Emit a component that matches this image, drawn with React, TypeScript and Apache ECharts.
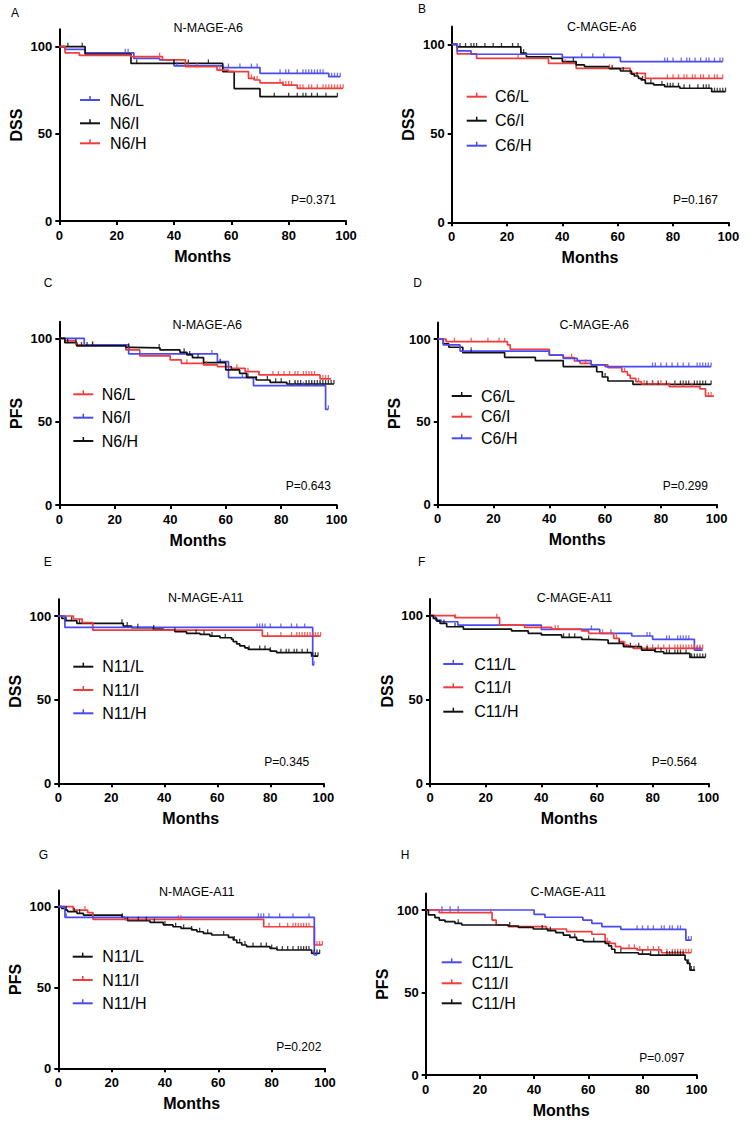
import { useEffect, useRef } from "react";
import * as echarts from "echarts";

const RED = "#f03c3c";
const BLUE = "#4a4af0";
const BLACK = "#111111";
const FONT = "'Liberation Sans', Arial, Helvetica, sans-serif";

// ---- tick labels ----
const xTicks = [0, 20, 40, 60, 80, 100];
const yTicks = [0, 50, 100];

// ---- Panel A: DSS, N-MAGE-A6 ----
const aLSteps = [[0,100],[2,98.5],[9,96.5],[26,93.3],[35,92.4],[40,89],[57,88],[70,84.7],[94,82.8],[98,82.8]];
const aLCens = [23,24,41,59,63,67,69,77,79,80,83,85,86,87,88,89,90,91,92,95,96,97,98];
const aISteps = [[0,100],[9,95.8],[25,90.4],[57,85.7],[61,76],[70,71.3],[97,71.3]];
const aICens = [3,8,27,40,45,52,75,80,83,85,86,88,90,93,97];
const aHSteps = [[0,100],[2,96.5],[7,95],[25,94.3],[36,92.4],[44,88.5],[55,86.6],[59,85.7],[66,81.8],[68,80.9],[70,79.3],[78,78],[83,76.1],[99,76.1]];
const aHCens = [35,45,48,56,67,68,69,77,78,79,80,81,84,85,87,88,90,92,93,94,95,96,97,98,99];

// ---- Panel B: DSS, C-MAGE-A6 ----
const bLSteps = [[0,100],[2,94.6],[9,92.1],[35,89.3],[45,86.5],[64.5,83.7],[70,80.9],[98,80.9]];
const bLCens = [24,41,57,78,80,82,84,85,87,88,90,91,93,95,96,98];
const bISteps = [[0,100],[2,98.5],[25,95],[27,93],[36,92.1],[40,90.3],[45,88.4],[48,87.5],[57,86.3],[61,85],[65,83.3],[66,82.2],[67.5,80.9],[68.5,80],[70,78.1],[73,77.2],[77,76.2],[82.5,75.3],[94,73.4],[99,73.4]];
const bICens = [3,5,7,8,9,12,15,18,22,24,25,26,44,58,62,67,69,72,76,78,79,80,82,84,86,89,91,92,93,95,96,97,98,99];
const bHSteps = [[0,100],[2,96.3],[7,94.4],[40,92.7],[61,90.3],[98,90.3]];
const bHCens = [47,51,55,77,78,80,83,85,86,88,90,92,93,95,97,98];

// ---- Panel C: PFS, N-MAGE-A6 ----
const cLSteps = [[0,100],[2,98.6],[6,96],[24,93],[29,89.5],[40,87],[44,85],[52,84],[57,83],[62,82],[67,80],[72,78],[94,75.6],[98,75.6]];
const cLCens = [6,12,25,46,53,64,68,72,77,79,81,83,85,86,88,89,90,91,92,95,96,97];
const cISteps = [[0,100],[9,96],[25,90.6],[57,86],[61,76.4],[70,71.6],[96,57.4],[97,57.4]];
const cICens = [55,66,85,88,91,94,97];
const cHSteps = [[0,100],[2,97.4],[6.3,95.4],[24,94.6],[26,94.2],[36.3,93],[43.5,91.6],[46,90],[48,88.4],[52,85.4],[60,81],[65,79],[67.5,76.6],[71,75],[76,73.6],[82,72.6],[99,72.6]];
const cHCens = [3,6,8,10,12,25,36,45,47,50,58,62,68,71,75,78,80,83,85,86,87,89,90,91,92,93,94,95,96,97,98,99];

// ---- Panel D: PFS, C-MAGE-A6 ----
const dLSteps = [[0,100],[2,97],[4,95],[9,91.7],[24,88.9],[35,86.9],[45,83.3],[57,80.2],[59,77],[61,74.6],[70,72.5],[98,72.5]];
const dLCens = [12,60,75,77,79,82,85,87,88,89,90,92,93,94,95,96,98];
const dISteps = [[0,100],[3,98.4],[25,96.4],[26,93.8],[40,90.3],[45,88.7],[49,86.7],[51,85.3],[55,84.3],[61,82.7],[66,80.2],[68,78.2],[69,76.2],[71,74.2],[73,72.8],[83,71.2],[94,69.8],[96,65.5],[99,65.5]];
const dICens = [6,12,18,22,24,48,53,67,72,74,77,80,83,85,88,91,94,97,98];
const dHSteps = [[0,100],[2,96.4],[8,92.7],[40,90.3],[45,88.3],[50,86.9],[55,84.3],[60,83.3],[98,83.3]];
const dHCens = [12,77,78,80,82,84,86,88,90,93,94,95,96,97,98];

// ---- Panel E: DSS, N-MAGE-A11 ----
const eLSteps = [[0,100],[1.3,98.6],[2.5,97.2],[7,95.6],[24.5,94],[27.7,93],[35.8,92.2],[39.6,91.6],[44,90.6],[48.4,89.6],[53.5,89],[57.2,88],[61,87],[65.4,86],[66,84.7],[67.3,83.3],[68.5,82.1],[70.4,81],[71.7,80],[80,79],[82.4,78.1],[95.6,76],[98,76]];
const eLCens = [3,5,8,24,26,30,36,44,52,55,58,63,72,76,78,80,84,86,87,89,90,92,94,96,97,98];
const eISteps = [[0,100],[5.7,98.2],[9,96],[13,91.6],[77,88],[99,88]];
const eICens = [9,79,84,88,90,91,92,93,94,95,96,97,98,99];
const eHSteps = [[0,100],[2.5,93.2],[96,70.7],[96.5,70.7]];
const eHCens = [75,76,77,78,80,84,88,90,93,96.5];

// ---- Panel F: DSS, C-MAGE-A11 ----
const fLSteps = [[0,100],[2,97.4],[4,96.4],[10,94.4],[40,91.8],[61,89.5],[72.5,87.9],[80,85.9],[95,79.5],[98,79.5]];
const fLCens = [58,65,78,79,85,86,89,90,91,92,93,95,96,97];
const fISteps = [[0,100],[9,98.8],[25,94.4],[34,93],[43.7,92],[54.5,90.9],[57,89.5],[66,86.5],[68,84.5],[69.5,82.5],[71.3,81.5],[73,80.5],[98,80.5]];
const fICens = [9,24,45,46,62,67,70,74,78,80,82,84,86,88,89,90,91,92,93,94,95,96,97,98];
const fHSteps = [[0,100],[1.2,98.4],[2.4,96.8],[3.6,95.4],[6,93.4],[12,92],[29.3,90.9],[35.3,89.5],[40,88.5],[47.3,87.1],[54.5,85.9],[58,85.5],[64,83.5],[69.5,81.5],[76,79.5],[80.8,78.5],[84,77.5],[93.4,75.1],[99,75.1]];
const fHCens = [5,9,48,50,52,57,68,72,75,78,81,83,85,86,88,89,90,92,94,95,96,97,98,99];

// ---- Panel G: PFS, N-MAGE-A11 ----
const gLSteps = [[0,100],[1.2,99],[2.5,97.9],[3.5,96.9],[7,95.9],[9.4,94.8],[23.8,93.4],[25,92.2],[26,91.3],[34.4,90.3],[39.4,88.7],[43,87.6],[46,86.6],[50,85.6],[52,84.5],[54.4,83.5],[57.5,82.5],[63.8,81],[65.6,79.4],[66.9,77.7],[68.8,76.3],[70.6,75.3],[79.4,74.2],[82,73.2],[95,71.1],[98,71.1]];
const gLCens = [3,6,8,24,26,30,33,36,40,44,47,50,53,56,62,66,68,70,73,76,78,80,82,84,86,88,90,91,92,93,94,96,97,98];
const gISteps = [[0,100],[5.6,97.9],[11,96.3],[13,92.2],[77,87.6],[96,76.3],[99,76.3]];
const gICens = [10,45,46,79,83,86,88,89,90,91,92,93,94,97,98,99];
const gHSteps = [[0,100],[2.5,93.4],[96,70.1],[97,70.1]];
const gHCens = [3,75,76,77,79,83,88,94,96,97];

// ---- Panel H: PFS, C-MAGE-A11 ----
const hLSteps = [[0,100],[40,97.4],[44,95.6],[58,93.9],[61.3,91.9],[65,89.9],[72,88.3],[96,81.8],[98,81.8]];
const hLCens = [6,9,12,78,80,82,84,87,88,90,91,93,94,97,98];
const hISteps = [[0,100],[5,98.4],[24.5,93.9],[26,90.9],[30.5,89.9],[44.6,88.5],[52,86.9],[61.3,85.3],[66.2,80.8],[68,79.8],[70,77.8],[72,76.8],[78,75.8],[87,74.1],[98,74.1]];
const hICens = [6,9,12,24,67,75,77,79,82,84,86,89,91,92,93,94,95,96,97,98];
const hHSteps = [[0,100],[1,97],[3.4,95.4],[5,93.9],[7.1,92.9],[10.8,91.9],[13.3,90.9],[30.5,90.3],[34.2,89.5],[39.7,88.5],[45,87.5],[48,86.3],[50.8,84.8],[53.2,83.4],[55.7,81.8],[58.2,80.8],[66.2,79.8],[67.5,78.2],[68.6,76.2],[69.8,74.1],[78.5,73.3],[82.8,72.7],[95.7,69.7],[96.5,67.7],[97.5,63.6],[99.4,63.6]];
const hHCens = [12,31,43,46,55,62,72,80,83,86,89,90,91,92,93,94,95,97,98,99];

// ---- panel texts ----
const letters = ["A", "B", "C", "D", "E", "F", "G", "H"];
const titles = ["N-MAGE-A6", "C-MAGE-A6", "N-MAGE-A6", "C-MAGE-A6", "N-MAGE-A11", "C-MAGE-A11", "N-MAGE-A11", "C-MAGE-A11"];
const yNames = ["DSS", "DSS", "PFS", "PFS", "DSS", "DSS", "PFS", "PFS"];
const pValues = ["P=0.371", "P=0.167", "P=0.643", "P=0.299", "P=0.345", "P=0.564", "P=0.202", "P=0.097"];
const legendNames = [
  ["N6/L", "N6/I", "N6/H"],
  ["C6/L", "C6/I", "C6/H"],
  ["N6/L", "N6/I", "N6/H"],
  ["C6/L", "C6/I", "C6/H"],
  ["N11/L", "N11/I", "N11/H"],
  ["C11/L", "C11/I", "C11/H"],
  ["N11/L", "N11/I", "N11/H"],
  ["C11/L", "C11/I", "C11/H"],
];

// ---- layout (pixels) and colours ----
const panels = [
  { colors: [BLUE, BLACK, RED], steps: [aLSteps, aISteps, aHSteps], cens: [aLCens, aICens, aHCens],
    box: { x0: 59.3, x100: 346, y0: 221, y100: 46.7 }, letter: [15, 13], title: [208.3, 28.3], p: [313.5, 200], lg: { lx: 80, tx: 110, ys: [100, 123.3, 143.3] } },
  { colors: [RED, BLACK, BLUE], steps: [bLSteps, bISteps, bHSteps], cens: [bLCens, bICens, bHCens],
    box: { x0: 451.7, x100: 728.3, y0: 222.3, y100: 44.3 }, letter: [422, 9], title: [601.7, 26.7], p: [695.5, 200], lg: { lx: 466.7, tx: 495, ys: [96.7, 120.7, 145.7] } },
  { colors: [RED, BLUE, BLACK], steps: [cLSteps, cISteps, cHSteps], cens: [cLCens, cICens, cHCens],
    box: { x0: 59.3, x100: 336.7, y0: 505, y100: 338.3 }, letter: [48, 283], title: [207.2, 325], p: [308.3, 486], lg: { lx: 73.3, tx: 101.7, ys: [394.3, 417.7, 441] } },
  { colors: [BLACK, RED, BLUE], steps: [dLSteps, dISteps, dHSteps], cens: [dLCens, dICens, dHCens],
    box: { x0: 437.7, x100: 716.7, y0: 504.3, y100: 339 }, letter: [417.7, 282.7], title: [594.2, 325], p: [685.3, 486], lg: { lx: 451.7, tx: 481, ys: [396, 416.7, 438.3] } },
  { colors: [BLACK, RED, BLUE], steps: [eLSteps, eISteps, eHSteps], cens: [eLCens, eICens, eHCens],
    box: { x0: 58.3, x100: 323.3, y0: 783.3, y100: 616 }, letter: [47.7, 561.7], title: [205.8, 598.3], p: [286.7, 761.7], lg: { lx: 73.3, tx: 102.3, ys: [666.7, 690, 713.3] } },
  { colors: [BLUE, RED, BLACK], steps: [fLSteps, fISteps, fHSteps], cens: [fLCens, fICens, fHCens],
    box: { x0: 430, x100: 708.3, y0: 783.3, y100: 615.7 }, letter: [421.7, 561.7], title: [574.5, 598.3], p: [674.3, 761.7], lg: { lx: 443.3, tx: 474.3, ys: [664, 687.3, 711.7] } },
  { colors: [BLACK, RED, BLUE], steps: [gLSteps, gISteps, gHSteps], cens: [gLCens, gICens, gHCens],
    box: { x0: 58.3, x100: 325, y0: 1068.3, y100: 906.7 }, letter: [43.3, 855], title: [196.7, 891.7], p: [298.8, 1046.7], lg: { lx: 72.7, tx: 102.3, ys: [956.7, 980, 1003.3] } },
  { colors: [BLUE, RED, BLACK], steps: [hLSteps, hISteps, hHSteps], cens: [hLCens, hICens, hHCens],
    box: { x0: 425.7, x100: 696.7, y0: 1075, y100: 910 }, letter: [405, 855], title: [568.3, 891.7], p: [661.8, 1058.3], lg: { lx: 441.7, tx: 471.7, ys: [962.3, 983.3, 1003.3] } },
];

function survivalAt(steps: number[][], t: number): number {
  let s = steps[0][1];
  for (const [x, y] of steps) if (x <= t) s = y;
  return s;
}

function buildOption() {
  const grid: any[] = [];
  const xAxis: any[] = [];
  const yAxis: any[] = [];
  const series: any[] = [];
  const graphic: any[] = [];
  const axisStyle = { color: "#000", width: 2 };
  const labelStyle = { fontSize: 13, fontWeight: "bold", color: "#000", fontFamily: FONT };
  const nameStyle = { fontSize: 16, fontWeight: "bold", color: "#000", fontFamily: FONT };

  panels.forEach((p, i) => {
    const h = (p.box.y0 - p.box.y100) * 1.1;
    grid.push({ left: p.box.x0, top: p.box.y0 - h, width: p.box.x100 - p.box.x0, height: h, containLabel: false });
    xAxis.push({
      gridIndex: i, type: "value", min: 0, max: 100, interval: 20,
      axisLine: { show: true, onZero: false, lineStyle: axisStyle },
      axisTick: { show: true, length: 4, lineStyle: axisStyle, customValues: xTicks },
      axisLabel: { ...labelStyle, margin: 8, customValues: xTicks },
      splitLine: { show: false },
      name: "Months", nameLocation: "middle", nameGap: 27, nameTextStyle: nameStyle,
    });
    yAxis.push({
      gridIndex: i, type: "value", min: 0, max: 110, interval: 50,
      axisLine: { show: true, onZero: false, lineStyle: axisStyle },
      axisTick: { show: true, length: 4, lineStyle: axisStyle, customValues: yTicks },
      axisLabel: { ...labelStyle, margin: 7, customValues: yTicks },
      splitLine: { show: false },
      name: yNames[i], nameLocation: "middle", nameGap: 35, nameTextStyle: nameStyle,
    });
    p.steps.forEach((st, k) => {
      series.push({
        type: "line", xAxisIndex: i, yAxisIndex: i, step: "end", data: st,
        showSymbol: false, symbol: "none", silent: true, z: 2 + k,
        lineStyle: { color: p.colors[k], width: 1.7 }, itemStyle: { color: p.colors[k] },
      });
      series.push({
        type: "scatter", xAxisIndex: i, yAxisIndex: i, silent: true, z: 5,
        data: p.cens[k].map((t) => [t, survivalAt(st, t)]),
        symbol: "rect", symbolSize: [1.3, 4], symbolOffset: [0, -2],
        itemStyle: { color: p.colors[k] },
      });
    });

    graphic.push({ type: "text", x: p.letter[0], y: p.letter[1], style: { text: letters[i], fontSize: 12, fontFamily: FONT, fill: "#000", textAlign: "center", textVerticalAlign: "middle" } });
    graphic.push({ type: "text", x: p.title[0], y: p.title[1], style: { text: titles[i], fontSize: 12.5, fontFamily: FONT, fill: "#000", textAlign: "center", textVerticalAlign: "middle" } });
    graphic.push({ type: "text", x: p.p[0], y: p.p[1], style: { text: pValues[i], fontSize: 12, fontFamily: FONT, fill: "#000", textAlign: "center", textVerticalAlign: "middle" } });
    p.lg.ys.forEach((yy, k) => {
      graphic.push({ type: "line", shape: { x1: p.lg.lx, y1: yy, x2: p.lg.lx + 20, y2: yy }, style: { stroke: p.colors[k], lineWidth: 2 } });
      graphic.push({ type: "line", shape: { x1: p.lg.lx + 10, y1: yy - 4, x2: p.lg.lx + 10, y2: yy }, style: { stroke: p.colors[k], lineWidth: 1.5 } });
      graphic.push({ type: "text", x: p.lg.tx, y: yy, style: { text: legendNames[i][k], fontSize: 16, fontFamily: FONT, fill: "#000", textAlign: "left", textVerticalAlign: "middle" } });
    });
  });

  return { animation: false, backgroundColor: "#fff", grid, xAxis, yAxis, series, graphic };
}

export default function App() {
  const ref = useRef<HTMLDivElement>(null);
  useEffect(() => {
    if (!ref.current) return;
    const chart = echarts.init(ref.current, undefined, { renderer: "svg" });
    chart.setOption(buildOption() as any);
    return () => chart.dispose();
  }, []);
  return <div ref={ref} style={{ position: "absolute", left: 0, top: 0, width: 749, height: 1122 }} />;
}
